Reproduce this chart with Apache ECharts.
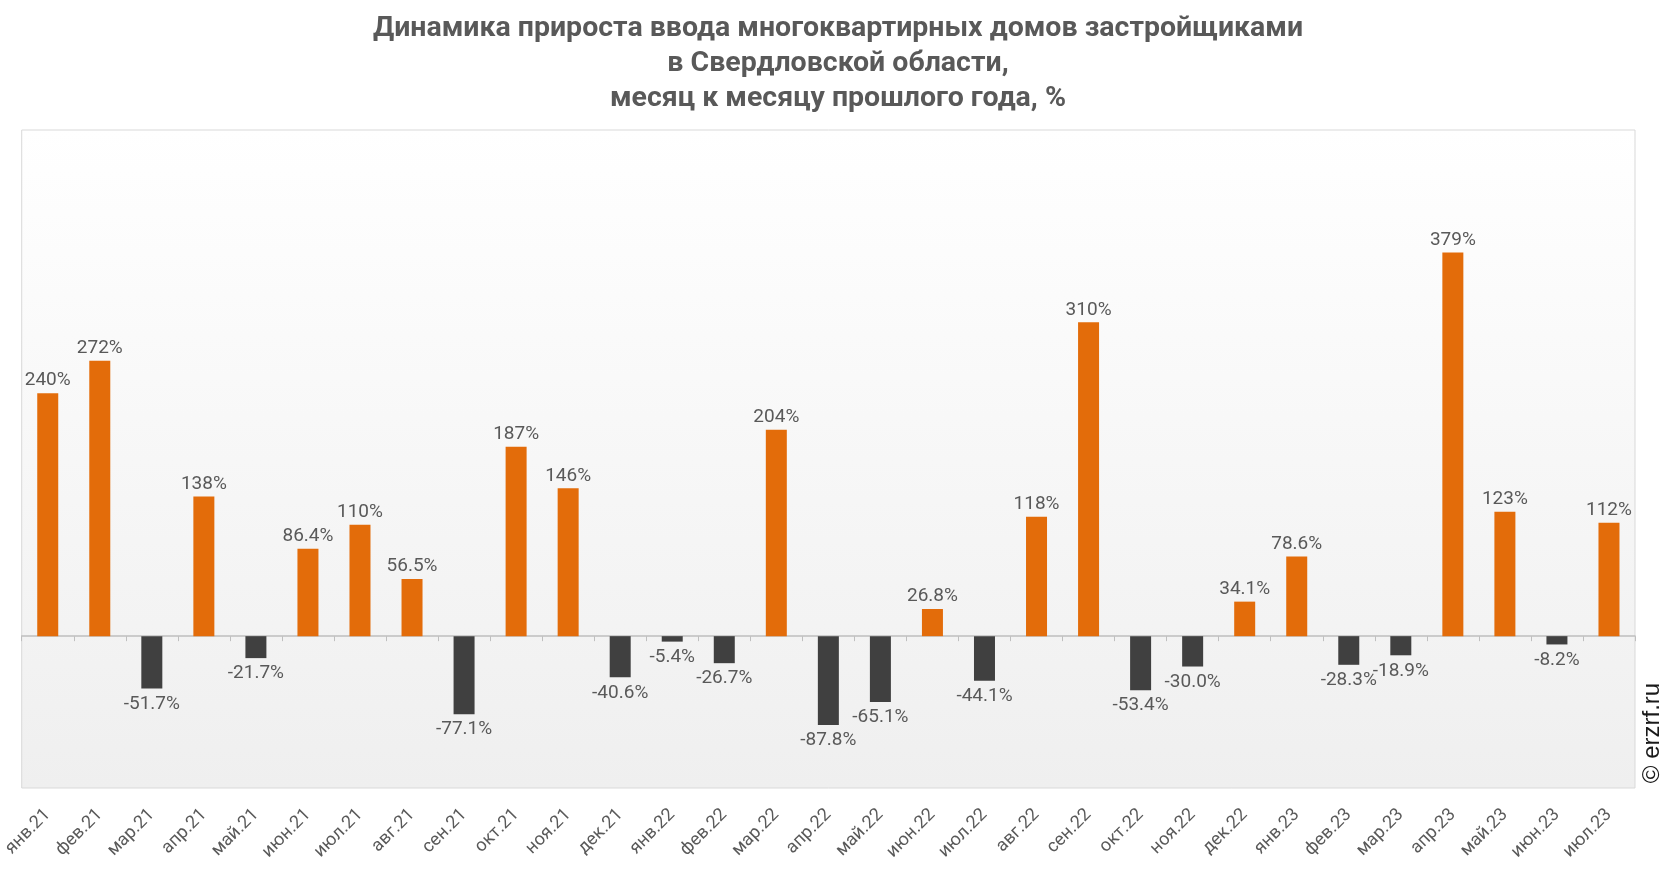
<!DOCTYPE html>
<html>
<head>
<meta charset="utf-8">
<script src="https://cdn.jsdelivr.net/npm/echarts@6/dist/echarts.min.js"></script>
<style>
html,body{margin:0;padding:0;background:#fff;}
#chart{width:1666px;height:872px;}
</style>
</head>
<body>
<div id="chart"></div>
<script>
const titleText = 'Динамика прироста ввода многоквартирных домов застройщиками\nв Свердловской области,\nмесяц к месяцу прошлого года, %';
const categories = ['янв.21','фев.21','мар.21','апр.21','май.21','июн.21','июл.21','авг.21','сен.21','окт.21','ноя.21','дек.21',
  'янв.22','фев.22','мар.22','апр.22','май.22','июн.22','июл.22','авг.22','сен.22','окт.22','ноя.22','дек.22',
  'янв.23','фев.23','мар.23','апр.23','май.23','июн.23','июл.23'];
const values = [240, 272, -51.7, 138, -21.7, 86.4, 110, 56.5, -77.1, 187, 146, -40.6,
  -5.4, -26.7, 204, -87.8, -65.1, 26.8, -44.1, 118, 310, -53.4, -30.0, 34.1,
  78.6, -28.3, -18.9, 379, 123, -8.2, 112];
const watermark = '© erzrf.ru';

const POS = '#E36C0A', NEG = '#404040', TXT = '#595959';
function fmt(v){ return (Math.abs(v) >= 100 ? v.toFixed(0) : v.toFixed(1)) + '%'; }

const data = values.map(v => ({
  value: v,
  itemStyle: { color: v >= 0 ? POS : NEG },
  label: { position: v >= 0 ? 'top' : 'bottom', distance: v >= 0 ? 3 : 6 }
}));

const chart = echarts.init(document.getElementById('chart'), null, {renderer:'canvas'});
chart.setOption({
  animation: false,
  backgroundColor: '#ffffff',
  title: {
    text: titleText,
    left: 833,
    top: 6,
    textAlign: 'center',
    textStyle: { fontFamily: 'Roboto', fontWeight: 'bold', fontSize: 28.5, color: TXT, lineHeight: 35 }
  },
  grid: {
    left: 21, right: 31, top: 130, bottom: 84,
    show: true,
    borderColor: '#d9d9d9',
    borderWidth: 1,
    backgroundColor: new echarts.graphic.LinearGradient(0,0,0,1,[
      {offset:0, color:'#ffffff'},
      {offset:1, color:'#efefef'}
    ])
  },
  xAxis: [
    {
      type: 'category', data: categories, position: 'bottom',
      axisLine: { onZero: true, lineStyle: { color: '#bfbfbf', width: 1.5 } },
      axisTick: { show: true, alignWithLabel: false, length: 5, lineStyle: { color: '#bfbfbf' } },
      axisLabel: { show: false }
    },
    {
      type: 'category', data: categories, position: 'bottom',
      axisLine: { show: false, onZero: false },
      axisTick: { show: false },
      axisLabel: { show: true, rotate: 45, margin: 24, fontFamily: 'Roboto', fontSize: 18, color: TXT, interval: 0 }
    }
  ],
  yAxis: {
    type: 'value', min: -150, max: 500,
    show: false,
    splitLine: { show: false }
  },
  series: [{
    type: 'bar',
    data: data,
    barWidth: 21,
    xAxisIndex: 0,
    label: {
      show: true,
      fontFamily: 'Roboto', fontSize: 19, color: TXT,
      formatter: p => fmt(p.value)
    }
  }],
  graphic: [{
    type: 'text',
    x: 1652, y: 733,
    rotation: Math.PI/2,
    style: { text: watermark, fontFamily: 'Liberation Sans', fontSize: 24, fill: '#1a1a1a', align: 'center', verticalAlign: 'middle' }
  }]
});
</script>
</body>
</html>
